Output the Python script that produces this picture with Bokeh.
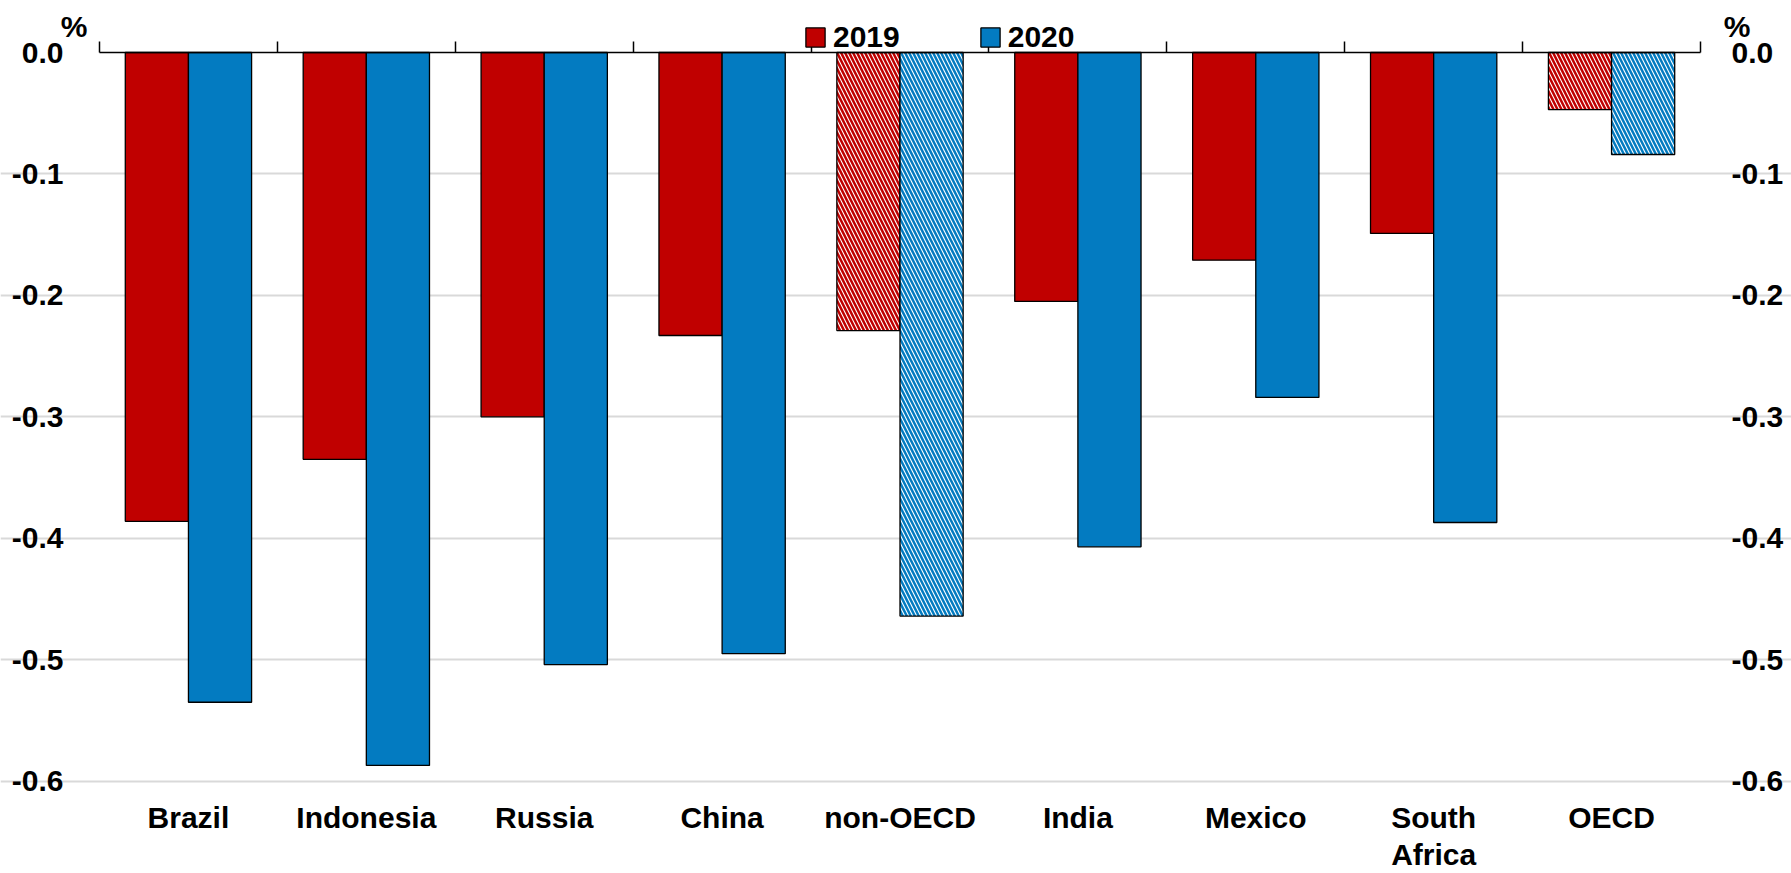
from bokeh.plotting import figure
from bokeh.models import (ColumnDataSource, Range1d, LinearAxis, FixedTicker, Grid,
                          PrintfTickFormatter, Legend, LegendItem, Label)
from bokeh.embed import file_html
from bokeh.resources import INLINE

# ---- data ----
categories = ["Brazil", "Indonesia", "Russia", "China", "non-OECD",
              "India", "Mexico", "South\nAfrica", "OECD"]
values_2019 = [-0.386, -0.335, -0.300, -0.233, -0.229, -0.205, -0.171, -0.149, -0.047]
values_2020 = [-0.535, -0.587, -0.504, -0.495, -0.464, -0.407, -0.284, -0.387, -0.084]
aggregate = [False, False, False, False, True, False, False, False, True]
y_ticks = [0.0, -0.1, -0.2, -0.3, -0.4, -0.5, -0.6]
series_names = ["2019", "2020"]
unit_label = "%"

RED = "#c00000"
BLUE = "#037bc1"
FONT = "Liberation Sans"
FS = "30px"

# ---- layout (pixels) ----
W_FIG, H_FIG = 1791, 873
PLOT_L, PLOT_R = 99, 1700        # category area, px from left
ZERO_PX, BOT_PX = 52, 780.7      # y=0 and y=-0.6, px from top
n = len(categories)
PXU_X = (PLOT_R - PLOT_L) / n
PXU_Y = (BOT_PX - ZERO_PX) / 0.6
x_start = -PLOT_L / PXU_X
x_end = n + (W_FIG - PLOT_R) / PXU_X
y_top = ZERO_PX / PXU_Y
y_bot = -(H_FIG - ZERO_PX) / PXU_Y

idx = list(range(n))
centers = [i + 0.5 for i in idx]
BAR_W = 0.355
OFF = 0.1775

def src(flag):
    sel = [i for i in idx if aggregate[i] == flag]
    return ColumnDataSource(dict(
        x19=[centers[i] - OFF for i in sel],
        x20=[centers[i] + OFF for i in sel],
        v19=[values_2019[i] for i in sel],
        v20=[values_2020[i] for i in sel],
    ))

solid = src(False)
hatched = src(True)

p = figure(width=W_FIG, height=H_FIG, output_backend="svg", toolbar_location=None,
           x_range=Range1d(x_start, x_end), y_range=Range1d(y_bot, y_top),
           x_axis_location=None, y_axis_location=None,
           min_border_left=0, min_border_right=0, min_border_top=0, min_border_bottom=0)
p.outline_line_color = None
p.background_fill_color = "white"
p.border_fill_color = "white"
p.xgrid.visible = False
p.ygrid.visible = False

def style_text_axis(ax, standoff):
    ax.axis_line_color = None
    ax.major_tick_line_color = None
    ax.minor_tick_line_color = None
    ax.major_tick_out = 0
    ax.major_tick_in = 0
    ax.major_label_standoff = standoff
    ax.major_label_text_font = FONT
    ax.major_label_text_font_style = "bold"
    ax.major_label_text_font_size = FS
    ax.major_label_text_color = "black"

# horizontal gridlines, limited to the category area
p.add_layout(Grid(dimension=1, ticker=FixedTicker(ticks=y_ticks[1:]), bounds=(0, n),
                  grid_line_color="#d9d9d9", grid_line_width=2))

# value axes (left and right)
left = LinearAxis(ticker=FixedTicker(ticks=y_ticks), formatter=PrintfTickFormatter(format="%.1f"),
                  fixed_location=0)
right = LinearAxis(ticker=FixedTicker(ticks=y_ticks), formatter=PrintfTickFormatter(format="%.1f"),
                   fixed_location=n)
style_text_axis(left, 36)
style_text_axis(right, 31)
p.add_layout(left, "left")
p.add_layout(right, "right")

# category axis at the bottom
bottom = LinearAxis(ticker=FixedTicker(ticks=centers),
                    major_label_overrides={c: t for c, t in zip(centers, categories)},
                    fixed_location=y_ticks[-1])
style_text_axis(bottom, 20)
bottom.major_label_orientation = "horizontal"
bottom.major_label_text_line_height = 1.12
p.add_layout(bottom, "below")

# bars
r19 = p.vbar(x="x19", top=0, bottom="v19", width=BAR_W, source=solid,
             fill_color=RED, line_color="black", line_width=1.3)
r20 = p.vbar(x="x20", top=0, bottom="v20", width=BAR_W, source=solid,
             fill_color=BLUE, line_color="black", line_width=1.3)
p.vbar(x="x19", top=0, bottom="v19", width=BAR_W, source=hatched,
       fill_color="white", hatch_color=RED, hatch_pattern="left_diagonal_line",
       hatch_scale=8, hatch_weight=2.5, line_color="black", line_width=1.3)
p.vbar(x="x20", top=0, bottom="v20", width=BAR_W, source=hatched,
       fill_color="white", hatch_color=BLUE, hatch_pattern="left_diagonal_line",
       hatch_scale=8, hatch_weight=2.5, line_color="black", line_width=1.3)

# zero axis line with boundary ticks pointing up
top = LinearAxis(ticker=FixedTicker(ticks=[float(i) for i in range(n + 1)]),
                 major_label_overrides={float(i): "" for i in range(n + 1)},
                 fixed_location=0, bounds=(0, n))
top.axis_line_color = "black"
top.axis_line_width = 1.5
top.major_tick_line_color = "black"
top.major_tick_line_width = 1.5
top.major_tick_out = 11
top.major_tick_in = 0
top.minor_tick_line_color = None
top.major_label_standoff = 0
p.add_layout(top, "above")

# unit labels
for xloc, xoff in ((0, -25.5), (n, 36.5)):
    p.add_layout(Label(x=xloc, y=0, x_offset=xoff, y_offset=26, text=unit_label,
                       text_align="center", text_baseline="middle", text_color="black",
                       text_font=FONT, text_font_style="bold", text_font_size=FS))

# legend
legend = Legend(items=[LegendItem(label=series_names[0], renderers=[r19]),
                       LegendItem(label=series_names[1], renderers=[r20])],
                orientation="horizontal", location=(803, 818),
                glyph_width=24, glyph_height=24, label_standoff=6, spacing=78,
                label_height=36, padding=0, margin=0,
                border_line_color=None, background_fill_alpha=0,
                label_text_font=FONT, label_text_font_style="bold",
                label_text_font_size=FS, label_text_color="black")
p.add_layout(legend, "center")

open("out.html", "w").write(file_html(p, INLINE))
